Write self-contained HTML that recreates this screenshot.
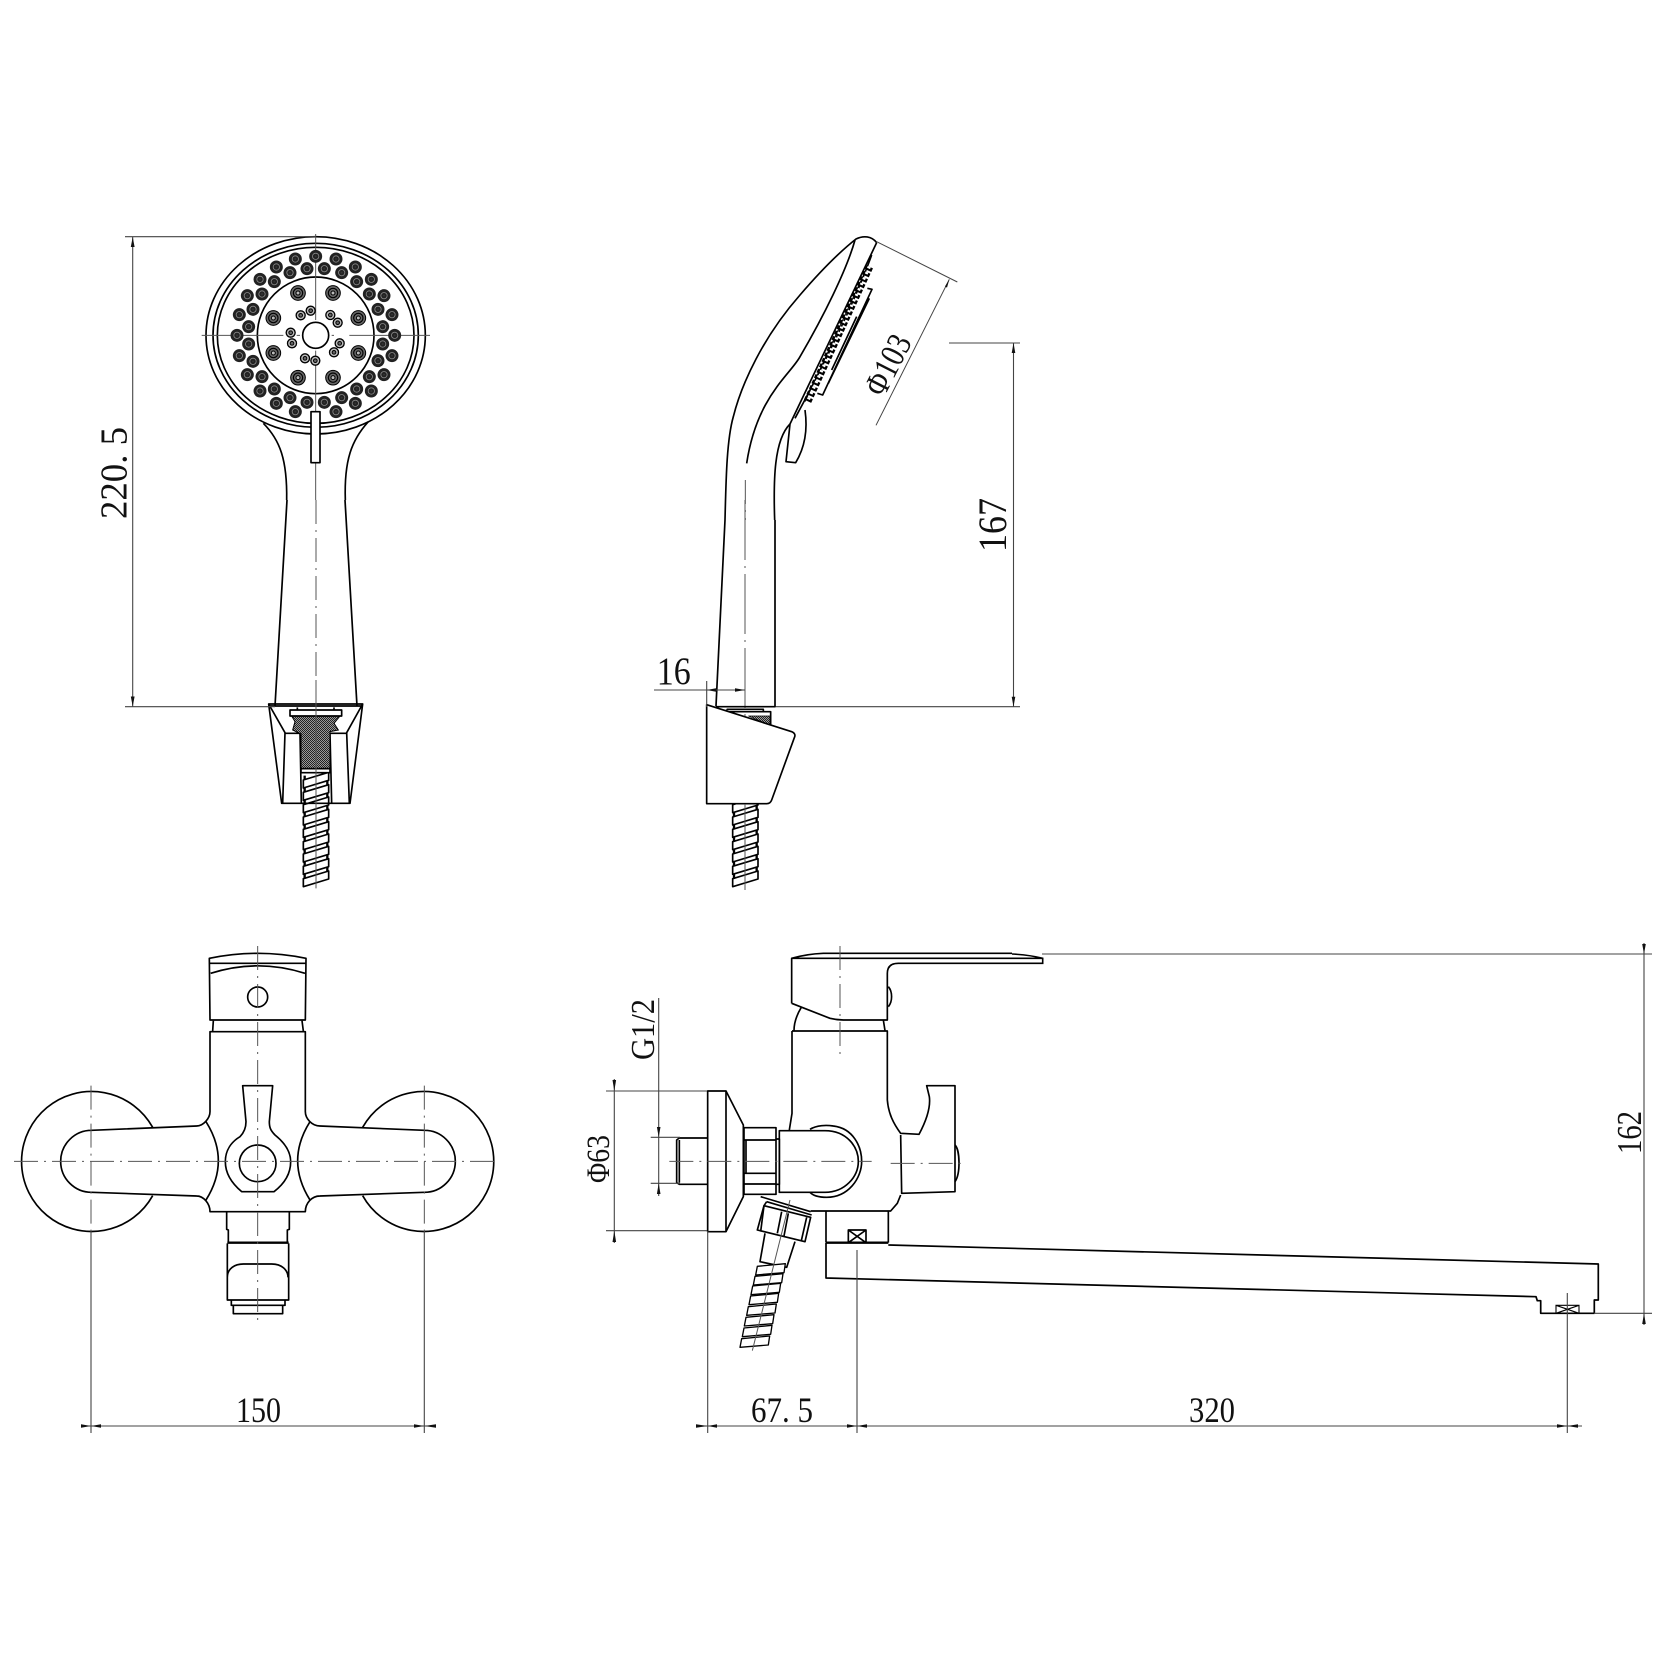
<!DOCTYPE html>
<html><head><meta charset="utf-8"><style>
html,body{margin:0;padding:0;background:#fff}
svg{display:block}
.k{fill:none;stroke:#000;stroke-width:5;stroke-linejoin:round}
.w{fill:#fff;stroke:#000;stroke-width:5;stroke-linejoin:round}
.c{fill:none;stroke:#555;stroke-width:3;stroke-dasharray:72 18 6 18}
.s{fill:none;stroke:#555;stroke-width:3}
.d{fill:none;stroke:#444;stroke-width:1.1}
.a{fill:#111;stroke:none}
text{font-family:"Liberation Serif",serif;fill:#111}
</style></head><body>
<svg width="1680" height="1680" viewBox="0 0 1680 1680" xmlns="http://www.w3.org/2000/svg">
<defs>
<pattern id="ht" width="6" height="6" patternUnits="userSpaceOnUse"><rect width="6" height="6" fill="#999"/><rect width="3" height="3" fill="#222"/><rect x="3" y="3" width="3" height="3" fill="#222"/></pattern>
<g id="h1"><circle r="19.5" fill="#222"/><circle r="9.5" fill="none" stroke="#888" stroke-width="2.5"/><circle r="3" fill="#333"/></g>
<g id="h2"><circle r="22" fill="#666" stroke="#000" stroke-width="3"/><circle r="14" fill="none" stroke="#000" stroke-width="3.5"/><circle r="6" fill="#bbb" stroke="#000" stroke-width="3"/></g>
<g id="h3"><circle r="13.5" fill="#bbb" stroke="#000" stroke-width="4"/><circle r="5.5" fill="#666" stroke="#000" stroke-width="3"/></g>
<g id="sl"><path d="M0 0L76 -23V-47L0 -24Z" fill="#fff" stroke="#000" stroke-width="5" stroke-linejoin="round"/><path d="M4 -24V-37M72 -47V-60" stroke="#000" stroke-width="7" fill="none"/></g>
<g id="sl2"><path d="M0 0L-85 7L-80 -19L4 -27Z" fill="#fff" stroke="#000" stroke-width="4" stroke-linejoin="round"/></g>
</defs>
<rect width="1680" height="1680" fill="#fff"/>

<!-- shower head front -->
<g transform="translate(180,220) scale(.33333)">
<ellipse class="k" cx="407" cy="346" rx="329" ry="296"/>
<ellipse class="k" cx="407" cy="346" rx="308" ry="276"/>
<ellipse class="k" cx="407" cy="346" rx="295" ry="264"/>
<circle class="k" cx="407" cy="346" r="175"/>
<circle class="k" cx="407" cy="346" r="39"/>
<path class="s" d="M407 42V300M407 392V840M65 346H310M350 346H360M455 346H462M508 346H750"/>
<use href="#h1" x="407" y="109"/><use href="#h1" x="468" y="117"/><use href="#h1" x="526" y="141"/><use href="#h1" x="574" y="178"/><use href="#h1" x="612" y="227"/><use href="#h1" x="636" y="284"/><use href="#h1" x="644" y="346"/><use href="#h1" x="636" y="407"/><use href="#h1" x="612" y="464"/><use href="#h1" x="574" y="513"/><use href="#h1" x="526" y="550"/><use href="#h1" x="468" y="575"/><use href="#h1" x="346" y="575"/><use href="#h1" x="289" y="550"/><use href="#h1" x="240" y="513"/><use href="#h1" x="202" y="464"/><use href="#h1" x="178" y="407"/><use href="#h1" x="171" y="346"/><use href="#h1" x="178" y="284"/><use href="#h1" x="202" y="227"/><use href="#h1" x="240" y="178"/><use href="#h1" x="289" y="141"/><use href="#h1" x="346" y="117"/>
<use href="#h1" x="381" y="146"/><use href="#h1" x="433" y="146"/><use href="#h1" x="485" y="158"/><use href="#h1" x="530" y="185"/><use href="#h1" x="568" y="222"/><use href="#h1" x="594" y="268"/><use href="#h1" x="608" y="320"/><use href="#h1" x="608" y="372"/><use href="#h1" x="594" y="422"/><use href="#h1" x="568" y="470"/><use href="#h1" x="530" y="507"/><use href="#h1" x="485" y="533"/><use href="#h1" x="433" y="547"/><use href="#h1" x="381" y="547"/><use href="#h1" x="330" y="533"/><use href="#h1" x="283" y="507"/><use href="#h1" x="246" y="470"/><use href="#h1" x="219" y="424"/><use href="#h1" x="206" y="372"/><use href="#h1" x="206" y="320"/><use href="#h1" x="219" y="268"/><use href="#h1" x="246" y="222"/><use href="#h1" x="283" y="185"/><use href="#h1" x="330" y="158"/>
<use href="#h2" x="354" y="219"/><use href="#h2" x="459" y="219"/><use href="#h2" x="535" y="294"/><use href="#h2" x="535" y="399"/><use href="#h2" x="459" y="473"/><use href="#h2" x="354" y="473"/><use href="#h2" x="280" y="399"/><use href="#h2" x="280" y="294"/>
<use href="#h3" x="392" y="272"/><use href="#h3" x="362" y="286"/><use href="#h3" x="451" y="285"/><use href="#h3" x="473" y="308"/><use href="#h3" x="479" y="370"/><use href="#h3" x="462" y="397"/><use href="#h3" x="406" y="422"/><use href="#h3" x="375" y="415"/><use href="#h3" x="336" y="370"/><use href="#h3" x="332" y="338"/>
<path class="k" d="M250 610C300 660 322 720 320 840M565 605C515 660 492 720 496 840"/>
<rect class="w" x="393" y="575" width="27" height="153" fill="#fff"/>
</g>
<path d="M287 500L275 706M345 500L357 706" fill="none" stroke="#000" stroke-width="1.7"/>
<path d="M316 500V707" fill="none" stroke="#555" stroke-width="1" stroke-dasharray="24 6 2 6"/>

<!-- holder front -->
<g transform="translate(240,680) scale(.33333)">
<use href="#sl" x="190" y="620"/><use href="#sl" x="190" y="583"/><use href="#sl" x="190" y="546"/><use href="#sl" x="190" y="509"/><use href="#sl" x="190" y="472"/><use href="#sl" x="190" y="435"/><use href="#sl" x="190" y="398"/><use href="#sl" x="190" y="361"/><use href="#sl" x="190" y="324"/>
<path class="k" d="M86 72L125 370H330L368 72ZM86 78H368M86 72L135 158L128 370M368 72L320 158L328 370M135 160H180L184 370M320 160H270L275 370"/>
<path d="M155 108L165 125L158 150L183 162V265H270V155L295 150L282 130L300 108Z" fill="url(#ht)" stroke="#000" stroke-width="3"/>
<rect class="w" x="150" y="90" width="155" height="18"/>
<path class="k" d="M172 82V90M282 82V90" stroke-width="3"/>
<rect class="w" x="183" y="266" width="87" height="12"/>
<path class="s" d="M228 0V625"/>
</g>

<!-- shower side -->
<g transform="translate(700,220) scale(.33333)">
<path class="k" d="M75 900C78 780 80 660 100 590C125 490 190 350 300 225C360 155 420 95 468 57C490 46 515 48 530 68"/>
<path class="k" d="M465 60C440 150 370 290 300 410C270 465 170 530 140 730"/>
<path class="k" d="M224 900C220 780 222 660 270 612"/>
<path class="c" d="M136 780V900"/>
<path class="k" d="M530 68L270 612"/>
<path class="k" d="M515 105C470 230 380 420 285 595"/>
<path d="M508 140L322 545" fill="none" stroke="#000" stroke-width="24" stroke-dasharray="12 6"/>
<path d="M508 140L322 545" fill="none" stroke="#fff" stroke-width="10" stroke-dasharray="6 12"/>
<path d="M500 145L315 545" fill="none" stroke="#000" stroke-width="3"/>
<path class="k" d="M502 205L516 208L368 525L352 520M508 235L385 490M470 290L395 450"/>
<path class="k" d="M270 612L258 725L287 728C310 690 325 640 315 570"/>
<path d="M530 65L772 186M748 178L528 616" fill="none" stroke="#444" stroke-width="3"/>
<path class="a" d="M748 178L741 203L735 199Z"/>
<text transform="translate(551,535) rotate(-63)" font-size="104" textLength="190" lengthAdjust="spacingAndGlyphs">Φ103</text>
</g>

<!-- handle lower side -->
<path d="M725 520L716 706M775 520V707" fill="none" stroke="#000" stroke-width="1.7"/>
<path d="M745 500V890" fill="none" stroke="#555" stroke-width="1" stroke-dasharray="60 6 2 6"/>

<!-- holder side -->
<g transform="translate(700,680) scale(.33333)">
<use href="#sl" x="98" y="620"/><use href="#sl" x="98" y="583"/><use href="#sl" x="98" y="546"/><use href="#sl" x="98" y="509"/><use href="#sl" x="98" y="472"/><use href="#sl" x="98" y="435"/><use href="#sl" x="98" y="398"/>
<path class="k" d="M47 80H227"/>
<path d="M145 108H210V135Z" fill="url(#ht)" stroke="#000" stroke-width="2"/>
<path class="k" d="M80 88V95H212V135M80 88H190V95"/>
<path class="w" d="M20 74L275 155Q289 161 283 173L215 360Q211 371 200 371H20Z"/>
<path class="s" d="M135 372V628"/>
</g>

<!-- faucet front -->
<g transform="translate(0,940) scale(.33333)">
<path class="k" d="M458 562A210 210 0 1 0 458 767M1088 562A210 210 0 1 1 1088 767"/>
<path class="k" d="M628 55Q773 25 918 55L916 240H630ZM628 70H918M632 100Q773 55 915 100"/>
<circle class="k" cx="773" cy="171" r="30"/>
<path class="k" d="M640 242L638 273M906 242L910 273"/>
<path class="k" d="M630 275H916V515C916 535 935 558 960 558L1273 571A93 93 0 0 1 1273 757L960 768C935 768 916 790 916 815H630C630 790 610 768 590 768L275 757A93 93 0 0 1 275 571L590 558C610 558 630 535 630 515Z"/>
<path class="k" d="M618 545Q692 662 618 780M930 545Q856 662 930 780"/>
<path class="k" d="M728 437H818L808 545C808 560 810 570 825 585C850 605 872 630 872 665C872 700 855 730 822 755H725C695 730 676 700 676 665C676 630 695 605 720 590C730 580 738 565 738 545Z"/>
<circle class="k" cx="773" cy="670" r="55"/>
<path class="k" d="M680 815V868L685 870V908M868 815V868L862 870V908"/>
<path d="M682 908H866" stroke="#000" stroke-width="7"/>
<path class="k" d="M682 910V1080H866V910M682 1012C682 985 705 972 730 972H815C845 972 864 990 864 1012"/>
<path class="k" d="M694 1080V1096H700V1121H848V1096H855V1080M694 1096H855"/>
<path class="c" d="M773 18V1157"/>
<path class="c" d="M42 664H1500"/>
<path class="c" d="M273 437V875M1273 437V875"/>
</g>

<!-- faucet side -->
<g transform="translate(640,940) scale(.33333)">
<path class="k" d="M455 190V55Q500 42 550 40H1116M455 55H1080M455 190L570 235Q590 240 610 240H742V100Q742 70 775 70H1080"/>
<path class="k" d="M745 140C758 155 758 185 745 200M484 202C470 225 462 250 462 272M730 240L735 272"/>
<path class="k" d="M456 273H742V480C745 520 760 550 782 580L837 583C860 540 872 500 868 470L860 437H945V755L785 760L782 585M782 765L772 790L752 813H512M456 273V520L448 570"/>
<path class="k" d="M945 615C960 630 962 700 945 725"/>
<path class="k" d="M510 568C530 555 560 555 580 558C640 565 665 620 665 664C665 715 625 772 560 772C540 772 520 768 510 757"/>
<path class="w" d="M418 572H555C620 572 655 620 655 664C655 710 615 757 555 757H418Z"/>
<path class="k" d="M408 597H418V733H408"/>
<path class="w" d="M312 563H408V763H312Z"/>
<path class="k" d="M312 600H408M312 700H408M312 732H408M318 600V700"/>
<path class="w" d="M203 453H258V875H203Z"/>
<path class="k" d="M258 453L310 555V770L258 875"/>
<path class="w" d="M203 594H118L110 600V728L118 733H203Z"/>
<path class="k" d="M118 600V728" stroke-width="3"/>
<path class="k" d="M362 770L512 815M380 785L515 825M380 785L372 797" stroke-width="4"/>
<path class="w" d="M372 797L512 832L495 905L352 870Z"/>
<path class="k" d="M372 797L362 875M500 832L484 902M425 815L412 880M445 820L432 888" stroke-width="3.5"/>
<path class="w" d="M375 880L360 965L440 982L465 905"/>
<use href="#sl2" x="385" y="1215"/><use href="#sl2" x="392" y="1183"/><use href="#sl2" x="398" y="1151"/><use href="#sl2" x="405" y="1119"/><use href="#sl2" x="412" y="1087"/><use href="#sl2" x="418" y="1057"/><use href="#sl2" x="425" y="1028"/><use href="#sl2" x="432" y="998"/>
<path class="s" d="M450 780L337 1232"/>
<path class="k" d="M558 813V908M745 813V908"/>
<path d="M558 908H745" stroke="#000" stroke-width="7"/>
<path class="k" d="M625 870H678V908H625ZM625 870L678 908M678 870L625 908" stroke-width="3"/>
<path class="c" d="M88 664H695M752 670H975"/>
<path class="c" d="M600 18V345"/>
</g>

<!-- spout -->
<path d="M888.3 1245L1598.3 1264V1300H1594.3V1313.3H1540.7V1300.7H1537.3L1536 1296.7L826 1278V1243" fill="none" stroke="#000" stroke-width="1.7" stroke-linejoin="round"/>
<path d="M1556 1305.3H1579V1313.3H1556ZM1556 1305.3L1579 1313.3M1579 1305.3L1556 1313.3" fill="none" stroke="#000" stroke-width="1.1"/>
<!-- lever tip -->
<path d="M1012 954Q1030 955 1042.7 958.3V963.3H1000M1000 958.3H1042.7" fill="none" stroke="#000" stroke-width="1.6"/>

<!-- dimensions -->
<path class="d" d="M125 236.7H316M125 706.7H275M132.7 236.7V706.7"/>
<path class="a" d="M132.7 237L130.8 247H134.6ZM132.7 706.5L130.8 696.5H134.6Z"/>
<path class="d" d="M91 1231V1433M424.3 1231V1433M81 1426H436"/>
<path class="a" d="M91 1426L81 1424.2V1427.8ZM91 1426L101 1424.2V1427.8ZM424.3 1426L414 1424.2V1427.8ZM424.3 1426L436 1424.2V1427.8Z"/>
<path class="d" d="M707.7 1231V1433M857 1250V1433M1567.3 1293V1433M696 1426H1582"/>
<path class="a" d="M707.7 1426L696 1424.2V1427.8ZM707.7 1426L717 1424.2V1427.8ZM857 1426L847 1424.2V1427.8ZM857 1426L867 1424.2V1427.8ZM1567.3 1426L1557 1424.2V1427.8ZM1567.3 1426L1578 1424.2V1427.8Z"/>
<path class="d" d="M1042 954H1652M1594 1313.3H1652M1644 943V1325"/>
<path class="a" d="M1644 954L1642.2 944H1645.8ZM1644 1313.3L1642.2 1324H1645.8Z"/>
<path class="d" d="M606 1091H707M606 1230.7H707M614.3 1079V1243M650.7 1137.3H680M650.7 1183.3H680M658.7 998V1196"/>
<path class="a" d="M614.3 1091L612.5 1080H616.1ZM614.3 1230.7L612.5 1242H616.1ZM658.7 1137.3L656.9 1127H660.5ZM658.7 1183.3L656.9 1194H660.5Z"/>
<path class="d" d="M654 690H745M706.7 681V707"/>
<path class="a" d="M745 690L735 688.2V691.8ZM706.7 690L716 688.2V691.8Z"/>
<path class="d" d="M949 343H1020M776 706.7H1020M1013.5 343V706.7"/>
<path class="a" d="M1013.5 343L1011.7 353H1015.3ZM1013.5 706.7L1011.7 696.7H1015.3Z"/>

<text transform="translate(126.7,519) rotate(-90)" font-size="38.5" textLength="92" lengthAdjust="spacingAndGlyphs" xml:space="preserve">220. 5</text>
<text x="656.7" y="684" font-size="39" textLength="34" lengthAdjust="spacingAndGlyphs">16</text>
<text transform="translate(1006,552) rotate(-90)" font-size="40" textLength="54" lengthAdjust="spacingAndGlyphs">167</text>
<text x="236" y="1422" font-size="36" textLength="45" lengthAdjust="spacingAndGlyphs">150</text>
<text x="751" y="1422" font-size="36" textLength="62" lengthAdjust="spacingAndGlyphs" xml:space="preserve">67. 5</text>
<text x="1189" y="1422" font-size="36" textLength="46" lengthAdjust="spacingAndGlyphs">320</text>
<text transform="translate(1641,1154) rotate(-90)" font-size="35" textLength="43" lengthAdjust="spacingAndGlyphs">162</text>
<text transform="translate(654,1060) rotate(-90)" font-size="34" textLength="61" lengthAdjust="spacingAndGlyphs">G1/2</text>
<text transform="translate(609,1183) rotate(-90)" font-size="33" textLength="48" lengthAdjust="spacingAndGlyphs">Φ63</text>
</svg>
</body></html>
